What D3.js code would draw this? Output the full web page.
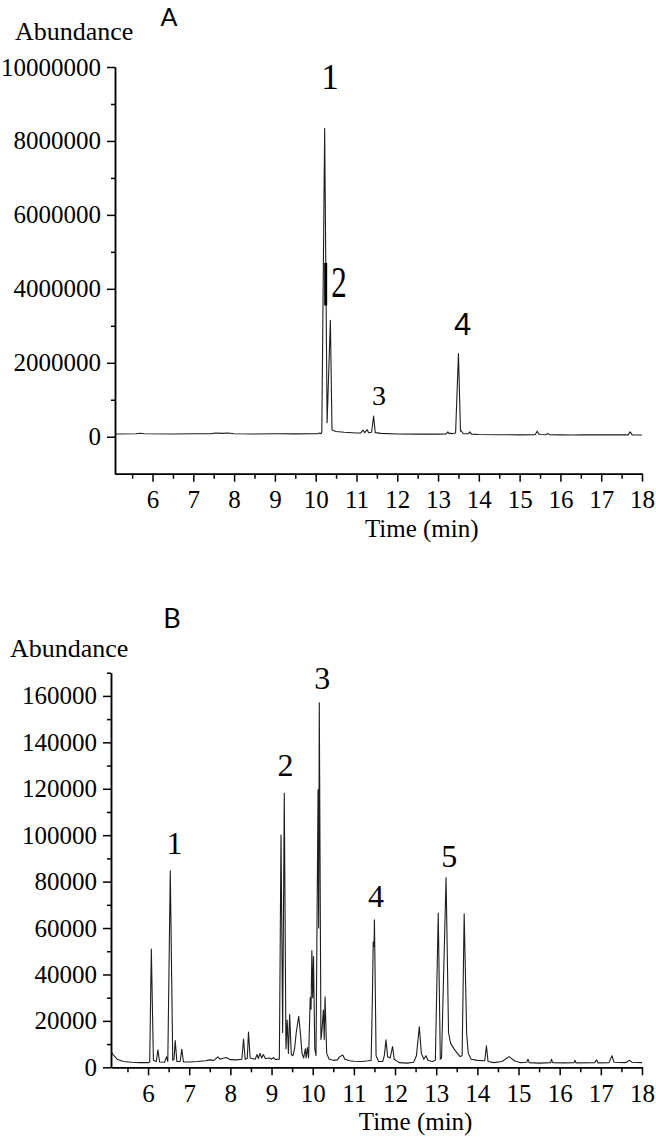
<!DOCTYPE html>
<html>
<head>
<meta charset="utf-8">
<script src="https://cdn.jsdelivr.net/npm/d3@7"></script>
<style>
  body { margin: 0; background: #fff; }
  svg text { font-family: "Liberation Serif", serif; }
  .axis path, .axis line { stroke: #000; stroke-width: 1.5; }
</style>
</head>
<body>
<div id="chart"></div>
<script>
// chromatogram A (time in min, abundance)
var timeA = [5.08, 5.6, 5.7, 5.8, 6.5, 7.0, 7.45, 7.55, 7.7, 7.85, 8.0, 8.5, 9.0, 9.5, 10.05, 10.1, 10.13,
  10.15, 10.22, 10.28, 10.36, 10.40, 10.5, 10.7, 11.0, 11.1, 11.16, 11.2, 11.26, 11.3, 11.37, 11.42, 11.46,
  11.6, 12.0, 12.5, 13.0, 13.2, 13.24, 13.27, 13.3, 13.33, 13.43, 13.5, 13.55, 13.57, 13.62, 13.74, 13.78,
  13.82, 14.0, 14.5, 15.0, 15.38, 15.43, 15.48, 15.65, 15.69, 15.73, 16.0, 16.3, 16.5, 17.0, 17.66, 17.71,
  17.76, 18.0];
var abundA = [75000, 80000, 95000, 80000, 75000, 80000, 85000, 100000, 90000, 100000, 80000, 75000, 80000, 78000, 80000, 100000, 80000,
  120000, 8340000, 380000, 3150000, 180000, 140000, 120000, 100000, 100000, 180000, 110000, 190000, 110000, 120000, 560000, 110000,
  90000, 75000, 70000, 70000, 75000, 130000, 80000, 100000, 80000, 100000, 2250000, 150000, 160000, 80000, 80000, 130000,
  70000, 60000, 55000, 50000, 55000, 150000, 60000, 55000, 90000, 55000, 50000, 45000, 55000, 50000, 50000, 130000,
  50000, 45000];

// chromatogram B
var timeB = [5.1, 5.15, 5.25, 5.4, 5.6, 5.8, 6.0, 6.04, 6.08, 6.13, 6.2, 6.24, 6.28, 6.4, 6.45, 6.48, 6.54, 6.6, 6.63, 6.66,
  6.7, 6.78, 6.82, 6.86, 7.0, 7.2, 7.4, 7.5, 7.6, 7.7, 7.75, 7.8, 7.9, 8.0, 8.15, 8.28, 8.32, 8.36, 8.41, 8.44, 8.48,
  8.6, 8.65, 8.68, 8.72, 8.76, 8.8, 8.85, 8.95, 9.0, 9.05, 9.1, 9.15, 9.19, 9.23, 9.27, 9.31, 9.35, 9.38, 9.41, 9.44,
  9.48, 9.52, 9.56, 9.6, 9.66, 9.7, 9.74, 9.78, 9.82, 9.84, 9.87, 9.9, 9.94, 9.96, 9.98, 10.0, 10.02, 10.05, 10.08,
  10.13, 10.145, 10.16, 10.2, 10.22, 10.26, 10.28, 10.3, 10.34, 10.4, 10.5, 10.6, 10.65, 10.73, 10.78, 10.9, 11.0,
  11.2, 11.35, 11.42, 11.45, 11.47, 11.49, 11.5, 11.54, 11.6, 11.7, 11.74, 11.78, 11.82, 11.88, 11.94, 11.98, 12.1,
  12.3, 12.45, 12.52, 12.59, 12.64, 12.7, 12.75, 12.8, 12.9, 12.98, 13.05, 13.1, 13.13, 13.24, 13.3, 13.35, 13.45,
  13.58, 13.63, 13.68, 13.74, 13.78, 13.85, 14.0, 14.18, 14.22, 14.26, 14.4, 14.6, 14.77, 14.9, 15.05, 15.2, 15.23,
  15.26, 15.5, 15.78, 15.8, 15.83, 16.1, 16.35, 16.37, 16.4, 16.85, 16.9, 16.93, 17.2, 17.27, 17.32, 17.6, 17.7,
  17.75, 18.0];
var abundB = [7000, 5500, 3500, 2500, 2200, 2000, 2000, 2200, 50900, 3000, 2500, 7500, 2300, 2200, 4500, 2500, 84700, 3000, 3500, 11500,
  2500, 2500, 7800, 2300, 2300, 2500, 2800, 3200, 3000, 4500, 3500, 3800, 4200, 3300, 3200, 3500, 12200, 3500, 3800, 15200, 4000,
  3500, 5500, 3800, 6000, 4000, 5500, 3800, 4000, 3500, 4200, 3300, 3500, 3500, 100100, 15000, 118000, 8000, 20400, 6000, 22700,
  5500, 5000, 8000, 15000, 22000, 15000, 6000, 4000, 8000, 4000, 8500, 4000, 30000, 25000, 50300, 30000, 47700, 8000, 5000,
  119500, 60000, 157000, 12000, 15000, 24700, 12000, 30400, 6000, 3500, 3000, 3200, 4500, 5300, 3500, 2800, 2600,
  2500, 2800, 3000, 30000, 54000, 52000, 63500, 5000, 2500, 2500, 5000, 11800, 4500, 4000, 8900, 3500, 2000,
  1800, 2200, 5000, 17500, 6000, 3500, 5000, 3000, 2500, 3000, 66400, 3500, 4000, 81700, 15000, 10300, 7500,
  4600, 5000, 66100, 14700, 6000, 3500, 3000, 2800, 9300, 2500, 2000, 2500, 4600, 2800, 2000, 2200, 3500,
  2000, 1800, 2000, 3500, 2000, 1900, 2000, 3000, 1900, 2000, 3200, 1900, 2000, 5000, 2200, 2000, 3000,
  2200, 2000];

// tick values
var xMajor = [6, 7, 8, 9, 10, 11, 12, 13, 14, 15, 16, 17, 18];
var xMinor = [5.5, 6.5, 7.5, 8.5, 9.5, 10.5, 11.5, 12.5, 13.5, 14.5, 15.5, 16.5, 17.5];
var yMajorA = [0, 2000000, 4000000, 6000000, 8000000, 10000000];
var yMinorA = [1000000, 3000000, 5000000, 7000000, 9000000];
var yMajorB = [0, 20000, 40000, 60000, 80000, 100000, 120000, 140000, 160000];
var yMinorB = [10000, 30000, 50000, 70000, 90000, 110000, 130000, 150000, 170000];

// peak labels
var peakTextA = ["1", "2", "3", "4"];
var peakTimeA = [10.35, 10.57, 11.55, 13.6];
var peakAbundA = [9400000, 3780000, 860000, 2750000];
var peakTextB = ["1", "2", "3", "4", "5"];
var peakTimeB = [6.64, 9.34, 10.23, 11.54, 13.32];
var peakAbundB = [91900, 125500, 162900, 69200, 86500];

var svgWidth = 656;
var svgHeight = 1138;
var serif = "Liberation Serif, serif";

var svg = d3.select("#chart")
  .append("svg")
  .attr("width", svgWidth)
  .attr("height", svgHeight);

var xA = d3.scaleLinear().domain([5.08, 18]).range([115, 642]);
var yA = d3.scaleLinear().domain([-1000000, 10000000]).range([473.7, 67]);
var xB = d3.scaleLinear().domain([5.1, 18]).range([111, 642]);
var yB = d3.scaleLinear().domain([0, 170000]).range([1067.3, 672.7]);

function styleAxis(g) {
  g.attr("font-family", null).attr("font-size", null);
  g.selectAll("text")
    .attr("font-family", serif)
    .style("font-family", serif)
    .style("font-size", "25px")
    .attr("fill", "#000");
}

function drawAxes(x, y, yMajor, yMinor) {
  var x0 = x.range()[0], yBottom = y.range()[0];

  svg.append("g").attr("class", "axis")
    .attr("transform", `translate(0, ${yBottom})`)
    .call(d3.axisBottom(x).tickValues(xMinor).tickSize(5).tickSizeOuter(0).tickFormat(""));
  svg.append("g").attr("class", "axis")
    .attr("transform", `translate(0, ${yBottom})`)
    .call(d3.axisBottom(x).tickValues(xMajor).tickSize(8).tickPadding(9).tickSizeOuter(0).tickFormat(d3.format("d")))
    .call(styleAxis);

  svg.append("g").attr("class", "axis")
    .attr("transform", `translate(${x0}, 0)`)
    .call(d3.axisLeft(y).tickValues(yMinor).tickSize(4).tickSizeOuter(0).tickFormat(""));
  svg.append("g").attr("class", "axis")
    .attr("transform", `translate(${x0}, 0)`)
    .call(d3.axisLeft(y).tickValues(yMajor).tickSize(8).tickPadding(6).tickSizeOuter(0).tickFormat(d3.format("d")))
    .call(styleAxis);
}

function drawTrace(x, y, times, values) {
  var line = d3.line()
    .x(function(d, i) { return x(times[i]); })
    .y(function(d) { return y(d); });
  svg.append("path")
    .datum(values)
    .attr("fill", "none")
    .attr("stroke", "#1e1e1e")
    .attr("stroke-width", 1.1)
    .attr("stroke-linejoin", "round")
    .attr("d", line);
}

// panel A
drawAxes(xA, yA, yMajorA, yMinorA);
drawTrace(xA, yA, timeA, abundA);

// the short heavy bar next to peak 2
svg.append("line")
  .attr("x1", xA(10.245)).attr("x2", xA(10.245))
  .attr("y1", yA(4700000)).attr("y2", yA(3550000))
  .attr("stroke", "#000").attr("stroke-width", 3);

svg.selectAll(".peakA")
  .data(peakTextA)
  .enter()
  .append("text")
  .attr("class", "peakA")
  .attr("text-anchor", "middle")
  .attr("transform", function(d, i) {
    var t = `translate(${xA(peakTimeA[i])}, ${yA(peakAbundA[i])})`;
    return d === "2" ? t + " scale(1, 1.45)" : t;
  })
  .style("font-family", function(d) { return d === "4" ? "Liberation Sans, sans-serif" : serif; })
  .style("font-size", function(d) { return d === "1" ? "35px" : d === "3" ? "28px" : "31px"; })
  .text(function(d) { return d; });

svg.append("text")
  .attr("x", 15).attr("y", 40)
  .style("font-family", serif).style("font-size", "26px")
  .text("Abundance");

svg.append("text")
  .attr("x", 169).attr("y", 26)
  .attr("text-anchor", "middle")
  .style("font-family", "Lato, sans-serif").style("font-size", "25px")
  .text("A");

svg.append("text")
  .attr("x", xA(12.6)).attr("y", 536.7)
  .attr("text-anchor", "middle")
  .style("font-family", serif).style("font-size", "25px")
  .text("Time (min)");

// panel B
drawAxes(xB, yB, yMajorB, yMinorB);
drawTrace(xB, yB, timeB, abundB);

svg.selectAll(".peakB")
  .data(peakTextB)
  .enter()
  .append("text")
  .attr("class", "peakB")
  .attr("text-anchor", "middle")
  .attr("x", function(d, i) { return xB(peakTimeB[i]); })
  .attr("y", function(d, i) { return yB(peakAbundB[i]); })
  .style("font-family", serif)
  .style("font-size", "32px")
  .text(function(d) { return d; });

svg.append("text")
  .attr("x", 10).attr("y", 657)
  .style("font-family", serif).style("font-size", "26px")
  .text("Abundance");

svg.append("text")
  .attr("x", 172).attr("y", 628)
  .attr("text-anchor", "middle")
  .style("font-family", "Lato, sans-serif").style("font-size", "27px")
  .text("B");

svg.append("text")
  .attr("x", xB(12.5)).attr("y", 1130)
  .attr("text-anchor", "middle")
  .style("font-family", serif).style("font-size", "25px")
  .text("Time (min)");
</script>
</body>
</html>
